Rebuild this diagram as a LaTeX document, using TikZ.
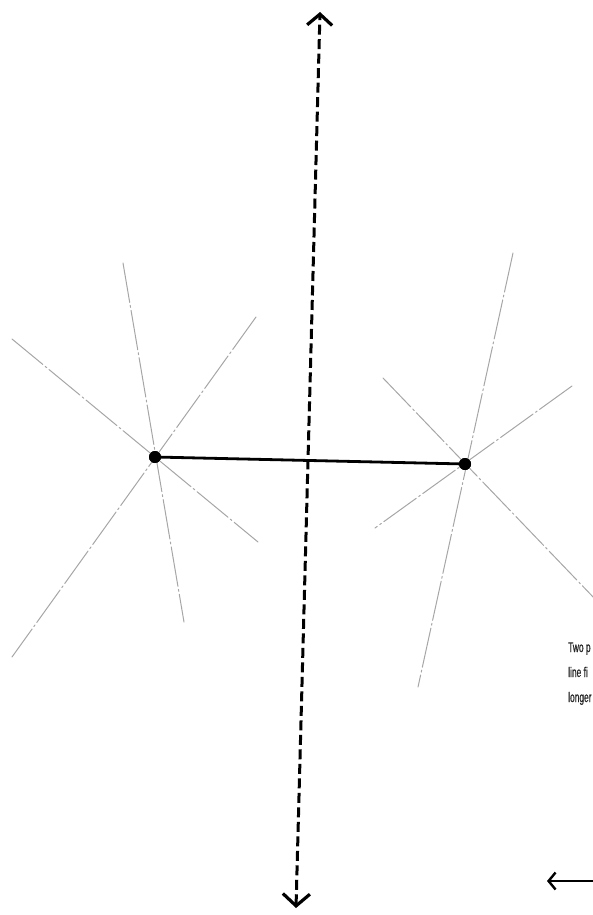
\documentclass[tikz,border=0pt]{standalone}
\usepackage{fontspec}
\newfontfamily\handfont[FakeStretch=0.6,FakeBold=0.8]{Liberation Sans}
\usetikzlibrary{arrows.meta}
\begin{document}
\begin{tikzpicture}[x=1pt,y=-1pt,
  ray/.style={draw=black!35,line width=1pt,line cap=round,dash pattern=on 40pt off 3pt on 2pt off 3pt},
  pt/.style={circle,fill=black,inner sep=0pt,minimum size=12pt},
  axis/.style={line width=3pt,dash pattern=on 10pt off 4.5pt,
     {Straight Barb[length=12pt,width=27pt,line width=3.2pt]}-{Straight Barb[length=11pt,width=25pt,line width=3.2pt]}},
  note/.style={anchor=base west,inner sep=0pt,font=\handfont\fontsize{14}{16}\selectfont,text=black!85}]
\useasboundingbox (0,0) rectangle (593,915);
\clip (0,0) rectangle (593,915);
% named points
\node[pt] (p1) at (155,457) {};
\node[pt] (p2) at (465,464) {};
% rays through left point
\coordinate (a1) at (123,263); \coordinate (a2) at (184,622);
\coordinate (b1) at (12,339);  \coordinate (b2) at (258,542);
\coordinate (c1) at (256,317); \coordinate (c2) at (12,657);
\draw[ray] (a1) -- (a2);
\draw[ray] (b1) -- (b2);
\draw[ray] (c1) -- (c2);
% rays through right point
\coordinate (d1) at (513,253); \coordinate (d2) at (418,687);
\coordinate (e1) at (383,378); \coordinate (e2) at (596,600);
\coordinate (f1) at (572,386); \coordinate (f2) at (375,528);
\draw[ray] (d1) -- (d2);
\draw[ray] (e1) -- (e2);
\draw[ray] (f1) -- (f2);
% segment between the points
\draw[line width=2.8pt] (p1) -- (p2);
\node[pt] at (p1) {};
\node[pt] at (p2) {};
% dashed axis
\coordinate (top) at (320,12);
\coordinate (bot) at (296,908);
\draw[axis] (bot) -- (top);
% text
\node[note] (t1) at (568,652) {Two p};
\node[note] (t2) at (568,677) {line fi};
\node[note] (t3) at (568,702) {longer};
% bottom-right arrow
\coordinate (ar1) at (598,881);
\coordinate (ar2) at (547,881);
\draw[line width=2.2pt,-{Straight Barb[length=7pt,width=17pt,line width=2.4pt]}] (ar1) -- (ar2);
\end{tikzpicture}
\end{document}
